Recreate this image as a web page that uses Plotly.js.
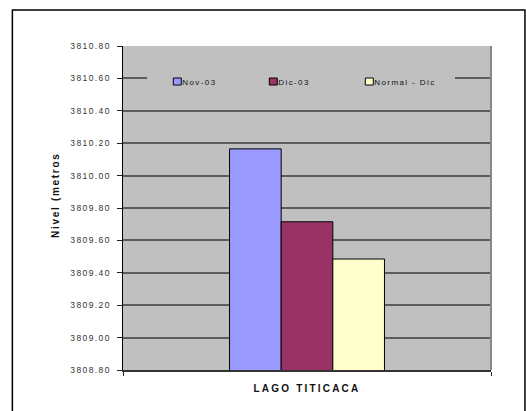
<!DOCTYPE html>
<html>
<head>
<meta charset="utf-8">
<script src="https://cdn.plot.ly/plotly-3.0.1.min.js"></script>
<style>
  html, body { margin: 0; padding: 0; background: #fff; }
  #chart { width: 526px; height: 411px; }
  #chart .ytick text { letter-spacing: 1.4px; }
  #chart .xtick text { letter-spacing: 2.2px; }
  #chart .annotation-text { letter-spacing: 1.7px; }
  #chart .legendtext { letter-spacing: 1.4px; transform: translate(-15px, 0); }
  #chart .legendpoints path { d: path("M4,3.5H-4V-3.5H4Z"); }
</style>
</head>
<body>
<div id="chart"></div>
<script>
const categories = ['LAGO TITICACA'];
const seriesNames = ['Nov-03', 'Dic-03', 'Normal - Dic'];
const nov03 = [3810.165];
const dic03 = [3809.715];
const normalDic = [3809.485];
const seriesColors = ['#9999ff', '#993366', '#ffffcc'];
const yTitle = 'Nivel (metros';
const yRange = [3808.8, 3810.8];

const values = [nov03, dic03, normalDic];
const font = 'Liberation Sans, Arial, sans-serif';

const traces = values.map((v, i) => ({
  type: 'bar',
  name: seriesNames[i],
  x: categories,
  y: v,
  marker: { color: seriesColors[i], line: { color: '#000', width: 1 } },
  hoverinfo: 'skip'
}));

const layout = {
  width: 526, height: 411,
  margin: { l: 123, r: 35, t: 46, b: 41 },
  paper_bgcolor: '#ffffff',
  plot_bgcolor: '#c0c0c0',
  barmode: 'group',
  bargap: 0.579,
  bargroupgap: 0,
  showlegend: true,
  legend: {
    orientation: 'h',
    x: 0.066, xanchor: 'left',
    y: 0.966, yanchor: 'top',
    bgcolor: '#c0c0c0',
    bordercolor: '#c0c0c0',
    borderwidth: 10,
    font: { family: font, size: 8, color: '#111' },
    itemwidth: 30,
    entrywidth: 51
  },
  xaxis: {
    type: 'category',
    showgrid: false,
    showline: true, linecolor: '#333', linewidth: 1.5,
    ticks: 'outside', tickson: 'boundaries', ticklen: 4, tickcolor: '#222', tickwidth: 1,
    tickfont: { family: font, size: 10, color: '#111', weight: 'bold' },
    ticklabelstandoff: 8,
    fixedrange: true
  },
  yaxis: {
    range: yRange,
    dtick: 0.2, tick0: 3808.8,
    tickformat: '.2f',
    showgrid: true, gridcolor: '#5c5c5c', gridwidth: 2,
    zeroline: false,
    showline: true, linecolor: '#000', linewidth: 1.5,
    ticks: 'outside', ticklen: 5, tickcolor: '#222', tickwidth: 1,
    tickfont: { family: font, size: 8.5, color: '#333' },
    ticklabelstandoff: 4,
    fixedrange: true
  },
  annotations: [{
    text: yTitle, xref: 'paper', yref: 'paper',
    x: -0.2055, y: 0.54, textangle: -90, showarrow: false,
    font: { family: font, size: 10, color: '#111', weight: 'bold' }
  }],
  shapes: [
    { type: 'rect', xref: 'paper', yref: 'paper', x0: -0.3006, x1: 1.0923, y0: -0.2, y1: 1.111,
      line: { color: '#000', width: 1.5 }, fillcolor: 'rgba(0,0,0,0)', layer: 'below' },
    { type: 'line', xref: 'paper', yref: 'paper', x0: 1, x1: 1, y0: 0, y1: 1,
      line: { color: '#888', width: 2 } }
  ]
};

Plotly.newPlot('chart', traces, layout, { displayModeBar: false, staticPlot: true });
</script>
</body>
</html>
